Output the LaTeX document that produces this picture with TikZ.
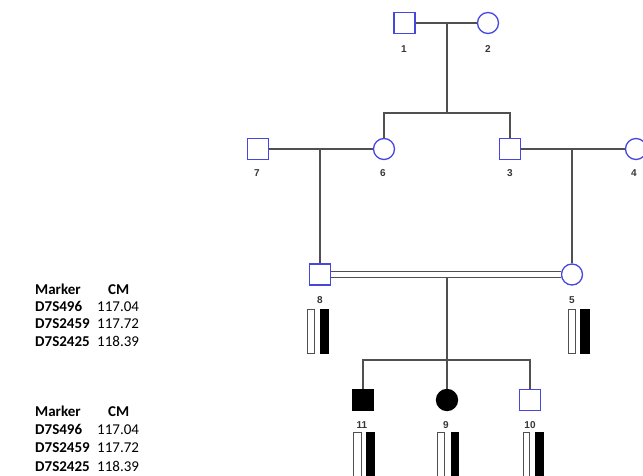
\documentclass[tikz,border=0pt]{standalone}
\usepackage{fontspec}
\setmainfont{Carlito}
\newfontfamily\lblfont{Liberation Sans}
\definecolor{symblue}{RGB}{70,70,225}
\definecolor{linegray}{RGB}{80,80,80}
\definecolor{lblgray}{RGB}{55,55,55}
\begin{document}
\begin{tikzpicture}[x=1pt,y=-1pt,
  male/.style={draw=symblue,line width=1.3pt,rectangle,minimum size=21pt,inner sep=0pt,fill=white},
  female/.style={draw=symblue,line width=1.3pt,circle,minimum size=21pt,inner sep=0pt,fill=white},
  amale/.style={draw=black,line width=1.3pt,rectangle,minimum size=21pt,inner sep=0pt,fill=black},
  afemale/.style={draw=black,line width=1.3pt,circle,minimum size=21pt,inner sep=0pt,fill=black},
  conn/.style={draw=linegray,line width=1.3pt},
  lbl/.style={font=\lblfont\bfseries\fontsize{10}{11}\selectfont,text=lblgray,inner sep=0pt},
  wbar/.style={draw=linegray,line width=0.8pt,fill=white},
  bbar/.style={draw=black,fill=black,line width=0.5pt},
  tab/.style={font=\fontsize{15}{16}\selectfont,anchor=base west,inner sep=0pt,text=black}
]
\useasboundingbox (0,0) rectangle (643,476);
\fill[white] (0,0) rectangle (643,476);

% generation I
\node[male] (n1) at (404.5,23) {};
\node[female] (n2) at (488,23) {};
% generation II
\node[male] (n7) at (258,149) {};
\node[female] (n6) at (384,149) {};
\node[male] (n3) at (510,149) {};
\node[female] (n4) at (636,149) {};
% generation III
\node[male] (n8) at (320,274.5) {};
\node[female] (n5) at (572,274.5) {};
% generation IV
\node[amale] (n11) at (363,400) {};
\node[afemale] (n9) at (447,400) {};
\node[male] (n10) at (530,400) {};

% labels
\node[lbl] (l1) at (404,49) {1};
\node[lbl] (l2) at (488,49) {2};
\node[lbl] (l7) at (257,173) {7};
\node[lbl] (l6) at (383,173) {6};
\node[lbl] (l3) at (510,173) {3};
\node[lbl] (l4) at (634,173) {4};
\node[lbl] (l8) at (320,300) {8};
\node[lbl] (l5) at (572,300) {5};
\node[lbl] (l11) at (362,425) {11};
\node[lbl] (l9) at (446,425) {9};
\node[lbl] (l10) at (530,425) {10};

% connectors
\coordinate (m12) at (447,23);
\coordinate (s1) at (447,113);
\draw[conn] (n1.east) -- (n2.west);
\draw[conn] (m12) -- (s1);
\draw[conn] (n6.north) |- (s1) -| (n3.north);

\coordinate (m76) at (320,149);
\draw[conn] (n7.east) -- (n6.west);
\draw[conn] (m76) -- (n8.north);

\coordinate (m34) at (572,149);
\draw[conn] (n3.east) -- (n4.west);
\draw[conn] (m34) -- (n5.north);

\draw[draw=linegray,line width=1.1pt,double=white,double distance=4.2pt] (n8.east) -- (n5.west);
\coordinate (m85) at (447,277.5);
\coordinate (s2) at (447,360);
\draw[conn] (m85) -- (s2);
\draw[conn] (n11.north) |- (s2) -| (n10.north);
\draw[conn] (s2) -- (n9.north);

% haplotype bars
\draw[wbar] (307,309) rectangle (314,353);
\draw[bbar] (320,309) rectangle (328,353);
\draw[wbar] (568,309) rectangle (575,353);
\draw[bbar] (580,309) rectangle (589,353);
\draw[wbar] (353,432) rectangle (361,490);
\draw[bbar] (366,432) rectangle (374,490);
\draw[wbar] (437,432) rectangle (444,490);
\draw[bbar] (451,432) rectangle (458,490);
\draw[wbar] (523,432) rectangle (529,490);
\draw[bbar] (535,432) rectangle (543,490);

% tables
\node[tab] (t1h1) at (35,294) {\textbf{Marker}};
\node[tab] (t1h2) at (108,294) {\textbf{CM}};
\node[tab] (t1a) at (35,311) {\textbf{D7S496}};
\node[tab] (t1av) at (97,311) {117.04};
\node[tab] (t1b) at (35,328) {\textbf{D7S2459}};
\node[tab] (t1bv) at (97,328) {117.72};
\node[tab] (t1c) at (35,346) {\textbf{D7S2425}};
\node[tab] (t1cv) at (97,346) {118.39};

\node[tab] (t2h1) at (35,416) {\textbf{Marker}};
\node[tab] (t2h2) at (108,416) {\textbf{CM}};
\node[tab] (t2a) at (35,434) {\textbf{D7S496}};
\node[tab] (t2av) at (97,434) {117.04};
\node[tab] (t2b) at (35,452) {\textbf{D7S2459}};
\node[tab] (t2bv) at (97,452) {117.72};
\node[tab] (t2c) at (35,471) {\textbf{D7S2425}};
\node[tab] (t2cv) at (97,471) {118.39};
\end{tikzpicture}
\end{document}
